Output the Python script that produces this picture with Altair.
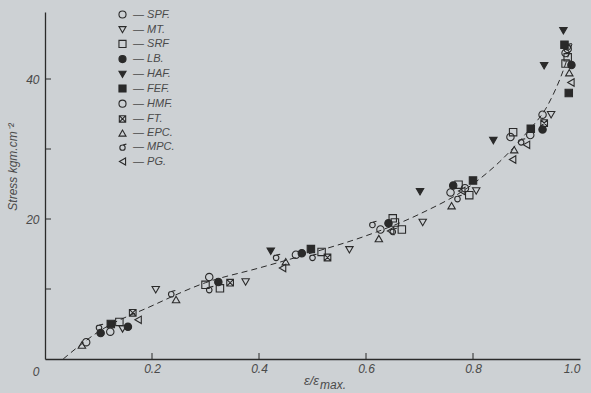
import altair as alt
import pandas as pd

# ---------------- data ----------------
series = ["SPF.", "MT.", "SRF", "LB.", "HAF.", "FEF.", "HMF.", "FT.", "EPC.", "MPC.", "PG."]

spf_e = [0.077, 0.307, 0.469, 0.627, 0.758, 0.930, 0.977]
spf_s = [2.4, 11.7, 14.9, 18.5, 23.8, 34.9, 44.3]
mt_e = [0.145, 0.207, 0.375, 0.569, 0.706, 0.806, 0.946]
mt_s = [4.3, 9.9, 11.0, 15.6, 19.5, 24.0, 34.9]
srf_e = [0.139, 0.300, 0.327, 0.517, 0.650, 0.654, 0.667, 0.773, 0.793, 0.875, 0.977, 0.973]
srf_s = [5.3, 10.6, 10.1, 15.3, 20.1, 19.5, 18.5, 24.9, 23.4, 32.4, 43.1, 42.2]
lb_e = [0.104, 0.155, 0.324, 0.480, 0.642, 0.763, 0.930, 0.984]
lb_s = [3.7, 4.6, 11.0, 15.1, 19.4, 24.8, 32.8, 42.0]
haf_e = [0.422, 0.701, 0.838, 0.933, 0.969]
haf_s = [15.4, 23.9, 31.2, 41.9, 46.9]
fef_e = [0.123, 0.497, 0.800, 0.908, 0.971, 0.979]
fef_s = [5.0, 15.7, 25.5, 32.9, 44.9, 38.0]
hmf_e = [0.122, 0.785, 0.870, 0.907, 0.973]
hmf_s = [3.9, 24.4, 31.7, 32.0, 43.7]
ft_e = [0.164, 0.346, 0.528, 0.933]
ft_s = [6.6, 10.9, 14.5, 33.7]
epc_e = [0.069, 0.245, 0.450, 0.624, 0.760, 0.877, 0.980]
epc_s = [2.0, 8.5, 13.9, 17.2, 21.9, 29.9, 40.9]
mpc_e = [0.101, 0.236, 0.307, 0.432, 0.500, 0.612, 0.650, 0.771, 0.890, 0.977]
mpc_s = [4.5, 9.3, 9.9, 14.5, 14.5, 19.2, 18.2, 22.9, 31.0, 44.6]
pg_e = [0.174, 0.444, 0.646, 0.779, 0.874, 0.900, 0.983]
pg_s = [5.6, 13.0, 18.3, 24.0, 28.5, 30.6, 39.5]

curve_e = [0.034, 0.10, 0.20, 0.30, 0.40, 0.50, 0.60, 0.70, 0.80, 0.85, 0.90, 0.94, 0.97, 0.985]
curve_s = [0.0, 3.9, 7.6, 10.9, 13.0, 15.2, 17.6, 20.7, 25.0, 28.2, 32.3, 36.3, 41.5, 45.0]

x_ticks = [0.2, 0.4, 0.6, 0.8]
x_labels = [0.2, 0.4, 0.6, 0.8, 1.0]
y_ticks = [10, 20, 30, 40]
y_labels = [20, 40]

# ---------------- styling ----------------
INK = "#2a2a2a"
TXT = "#4a4a4a"
BG = "#cdd1d4"
FONT = "Liberation Sans"

ft_path = "M-0.9,-0.9L0.9,-0.9L0.9,0.9L-0.9,0.9Z M-0.9,-0.9L0.9,0.9 M0.9,-0.9L-0.9,0.9"
mpc_path = "M0.75,0.1A0.75,0.75,0,1,1,-0.75,0.1A0.75,0.75,0,1,1,0.75,0.1Z M0,-0.65L1.1,-0.9"

shapes = ["circle", "triangle-down", "square", "circle", "triangle-down", "square",
          "circle", ft_path, "triangle-up", mpc_path, "triangle-left"]
fills = ["transparent", "transparent", "transparent", INK, INK, INK,
         "transparent", "transparent", "transparent", "transparent", "transparent"]
strokes = [INK] * len(series)

pairs = [(spf_e, spf_s), (mt_e, mt_s), (srf_e, srf_s), (lb_e, lb_s), (haf_e, haf_s),
         (fef_e, fef_s), (hmf_e, hmf_s), (ft_e, ft_s), (epc_e, epc_s), (mpc_e, mpc_s),
         (pg_e, pg_s)]
rows = []
for name, (es, ss) in zip(series, pairs):
    for e, s in zip(es, ss):
        rows.append({"series": name, "eps": e, "stress": s})
pts = pd.DataFrame(rows)
curve = pd.DataFrame({"eps": curve_e, "stress": curve_s})

W, H = 535, 347
xs = alt.Scale(domain=[0, 1], nice=False, zero=False)
ys = alt.Scale(domain=[0, H / 7.0], nice=False, zero=False)


def leg():
    return alt.Legend(orient="none", legendX=72, legendY=-3, title=None,
                      labelExpr="'—  ' + datum.label",
                      symbolStrokeColor=INK, symbolStrokeWidth=1.1,
                      symbolSize=50, labelFontSize=11, rowPadding=2.2,
                      labelOffset=5, labelFont=FONT, labelColor=TXT,
                      labelFontStyle="italic")


line = alt.Chart(curve).mark_line(
    strokeDash=[6, 4], color=INK, strokeWidth=1, interpolate="monotone"
).encode(
    x=alt.X("eps:Q", scale=xs, axis=alt.Axis(
        values=x_labels, format=".1f", ticks=False, grid=False, title=None,
        labelPadding=4, domainColor=INK, domainWidth=1.3)),
    y=alt.Y("stress:Q", scale=ys, axis=alt.Axis(
        values=y_labels, ticks=False, grid=False, title=None, labelPadding=6,
        domainColor=INK, domainWidth=1.3)),
)

points = alt.Chart(pts).mark_point(filled=True, strokeWidth=1.1, size=55, opacity=1).encode(
    x=alt.X("eps:Q", scale=xs),
    y=alt.Y("stress:Q", scale=ys),
    shape=alt.Shape("series:N", scale=alt.Scale(domain=series, range=shapes), legend=leg()),
    fill=alt.Fill("series:N", scale=alt.Scale(domain=series, range=fills), legend=leg()),
    stroke=alt.Stroke("series:N", scale=alt.Scale(domain=series, range=strokes), legend=leg()),
)

xt = alt.Chart(pd.DataFrame({"v": x_ticks})).mark_rule(color=INK, strokeWidth=1).encode(
    x=alt.X("v:Q", scale=xs), y=alt.value(H), y2=alt.value(H - 6))
yt = alt.Chart(pd.DataFrame({"v": y_ticks})).mark_rule(color=INK, strokeWidth=1).encode(
    y=alt.Y("v:Q", scale=ys), x=alt.value(0), x2=alt.value(6))

zero = alt.Chart(pd.DataFrame({"e": [0.0], "s": [0.0], "t": ["0"]})).mark_text(
    font=FONT, fontStyle="italic", fontSize=12, color=TXT, dx=-9, dy=13
).encode(x=alt.X("e:Q", scale=xs), y=alt.Y("s:Q", scale=ys), text="t:N")

ytitle = alt.Chart(pd.DataFrame({"t": ["Stress  kgm.cm⁻²"]})).mark_text(
    font=FONT, fontStyle="italic", fontSize=12, color=TXT, angle=270
).encode(x=alt.value(-32), y=alt.value(155), text="t:N")

xtitle1 = alt.Chart(pd.DataFrame({"t": ["ε/ε"]})).mark_text(
    font=FONT, fontStyle="italic", fontSize=13, color=TXT, align="right"
).encode(x=alt.value(274), y=alt.value(369), text="t:N")
xtitle2 = alt.Chart(pd.DataFrame({"t": ["max."]})).mark_text(
    font=FONT, fontStyle="italic", fontSize=12, color=TXT, align="left"
).encode(x=alt.value(275), y=alt.value(373), text="t:N")

chart = alt.layer(line, points, xt, yt, zero, ytitle, xtitle1, xtitle2).properties(
    width=W, height=H, autosize="none",
    padding={"left": 45, "top": 12, "right": 11, "bottom": 34},
    background=BG,
).configure_view(stroke=None).configure_axis(
    labelFont=FONT, labelFontStyle="italic", labelFontSize=12, labelColor=TXT
)

chart.save("out.html", embed_options={"renderer": "svg", "actions": False})
